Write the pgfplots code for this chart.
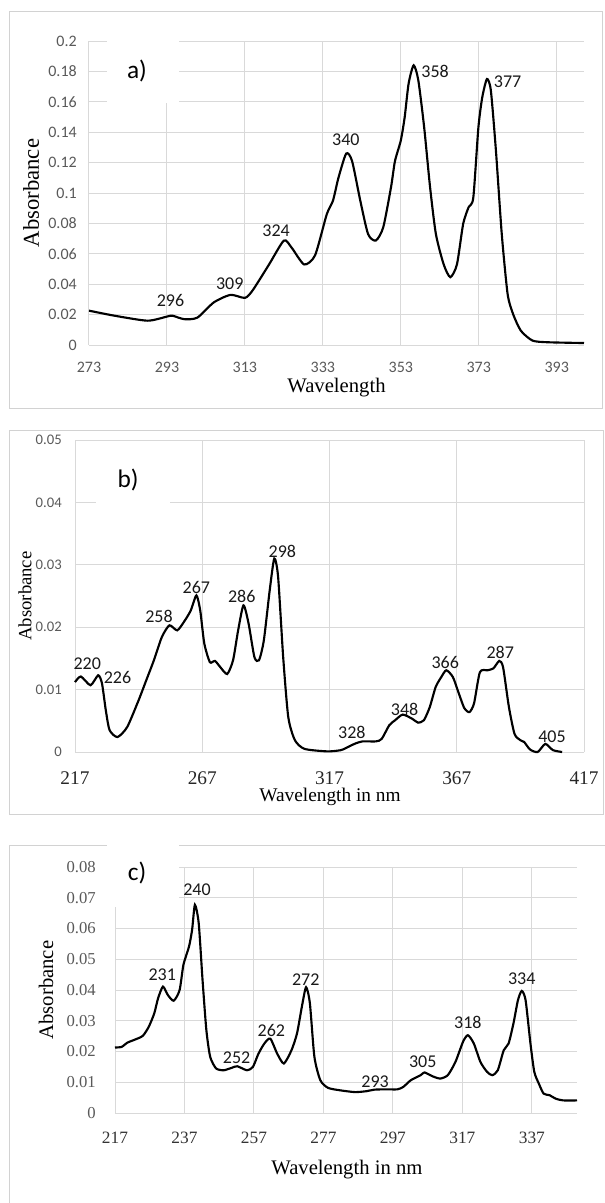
\documentclass[border=0pt]{standalone}
\usepackage{fontspec}
\setmainfont{Liberation Serif}
\newfontfamily\calfont{Carlito}
\usepackage{pgfplots}
\pgfplotsset{compat=1.18}
\definecolor{gridc}{RGB}{217,217,217}
\definecolor{framec}{RGB}{210,210,210}
\definecolor{tickgray}{RGB}{89,89,89}
\pgfplotsset{
  base/.style={
    scale only axis,
    anchor=south west,
    axis line style={draw=none},
    major tick length=0pt,
    grid=major,
    major grid style={gridc, line width=0.75pt},
    scaled y ticks=false,
    scaled x ticks=false,
    /pgf/number format/assume math mode=true,
    yticklabel style={/pgf/number format/fixed, /pgf/number format/precision=2, anchor=east, inner sep=0pt},
    xticklabel style={anchor=center, inner sep=0pt},
    xlabel style={anchor=center},
    ylabel style={anchor=center},
    clip=false,
  },
  spec/.style={black, line width=1.6pt, smooth, tension=0.4, mark=none},
}
\tikzset{pk/.style={font=\calfont\fontsize{13.5}{15}\selectfont, text=black!90, inner sep=0pt}}
\begin{document}
\begin{tikzpicture}
\useasboundingbox (0,0) rectangle (453.75pt,-902.25pt);
% frames
\draw[framec, line width=0.75pt] (6.75pt,-8.25pt) rectangle (451.5pt,-306pt);
\draw[framec, line width=0.75pt] (6.75pt,-322.5pt) rectangle (452.25pt,-610.5pt);
\draw[framec, line width=0.75pt] (453.75pt,-633.75pt) -- (6.75pt,-633.75pt) -- (6.75pt,-902.25pt);

% ---------------- panel a ----------------
\begin{axis}[base, at={(66.75pt,-258.75pt)},
  width=371.25pt, height=228pt,
  xmin=273, xmax=400, ymin=0, ymax=0.2,
  xtick={273,293,313,333,353,373,393},
  ytick={0,0.02,0.04,0.06,0.08,0.1,0.12,0.14,0.16,0.18,0.2},
  xticklabel style={font=\calfont\fontsize{12}{14}\selectfont, text=tickgray, yshift=-16.5pt},
  yticklabel style={font=\calfont\fontsize{12}{14}\selectfont, text=tickgray, xshift=-9pt},
  xlabel={Wavelength}, ylabel={Absorbance},
  xlabel style={at={(axis description cs:0.5,-0.1414)}, font=\fontsize{15.5}{17}\selectfont},
  ylabel style={at={(axis description cs:-0.117,0.5)}, font=\fontsize{17}{19}\selectfont},
]
\addplot[spec] coordinates {
(273,0.0226) (279.5,0.0193) (288,0.016) (293,0.0187) (294.4,0.0193) (297.4,0.017)
(300.8,0.018) (305,0.028) (309.3,0.033) (313,0.031) (315,0.036) (319.2,0.053)
(323,0.0687) (325,0.064) (328.2,0.053) (331,0.059) (334,0.086) (335.6,0.095)
(337,0.11) (339,0.126) (340.5,0.121) (342.6,0.095) (344.6,0.073) (346.6,0.0687)
(348.5,0.0775) (350.5,0.104) (351.5,0.121) (353,0.1346) (354,0.15) (355,0.172)
(356.3,0.184) (357.5,0.174) (359,0.143) (360.5,0.104) (362,0.073) (364,0.053)
(365.7,0.0446) (367.4,0.053) (369,0.0797) (370.4,0.0907) (371.6,0.097) (372.9,0.143)
(373.9,0.163) (375.1,0.175) (376.1,0.1675) (377.4,0.128) (378.9,0.073) (380.4,0.0336)
(381.8,0.0204) (383.8,0.0094) (386.8,0.0029) (390.8,0.0018) (400,0.0013)
};
\node[pk] at (axis cs:293.9,0.0292) {296};
\node[pk] at (axis cs:309.1,0.0406) {309};
\node[pk] at (axis cs:321,0.0753) {324};
\node[pk] at (axis cs:338.9,0.135) {340};
\node[pk] at (axis cs:361.8,0.180) {358};
\node[pk] at (axis cs:380.4,0.173) {377};
\end{axis}
\fill[white] (80.25pt,-29.5pt) rectangle (134.25pt,-77.25pt);
\node[font=\calfont\fontsize{19}{21}\selectfont] at (102.75pt,-53.25pt) {a)};

% ---------------- panel b ----------------
\begin{axis}[base, at={(56.25pt,-564pt)},
  width=381.75pt, height=234pt,
  xmin=217, xmax=417, ymin=0, ymax=0.05,
  xtick={217,267,317,367,417},
  ytick={0,0.01,0.02,0.03,0.04,0.05},
  xticklabel style={font=\fontsize{14.5}{16}\selectfont, text=black!85, yshift=-19.5pt},
  yticklabel style={font=\calfont\fontsize{11}{13}\selectfont, text=tickgray, xshift=-9.75pt},
  xlabel={Wavelength in nm}, ylabel={Absorbance},
  xlabel style={at={(axis description cs:0.501,-0.144)}, font=\fontsize{14.5}{16}\selectfont},
  ylabel style={at={(axis description cs:-0.0983,0.5)}, font=\fontsize{14}{16}\selectfont},
]
\addplot[spec] coordinates {
(217,0.0112) (219.3,0.0121) (223.1,0.0107) (226.1,0.0123) (227.6,0.011) (229.1,0.0067)
(230.6,0.0035) (233.7,0.0024) (237.5,0.004) (242,0.0083) (245,0.0115) (248,0.0147)
(251.1,0.0184) (254.1,0.0203) (257.2,0.0195) (260.2,0.0211) (262.5,0.0227) (264.7,0.0251)
(266.2,0.0227) (267.8,0.0174) (270,0.0144) (272,0.0146) (274.1,0.0136) (276.8,0.0125)
(279.1,0.0147) (281.1,0.0195) (283.2,0.0235) (285.2,0.0206) (287.5,0.0152) (289.3,0.0147)
(291.2,0.0179) (293.5,0.0259) (295.3,0.031) (296.8,0.0281) (298.8,0.0152) (300.8,0.0056)
(303.4,0.0019) (307.2,0.0005) (316.2,0.0001) (321.5,0.0003) (323.8,0.0007) (326.8,0.0013)
(329.9,0.0017) (335.2,0.0017) (337.5,0.0021) (340.5,0.0043) (342.8,0.0051) (345.8,0.006)
(349.6,0.0053) (351.8,0.0047) (354.1,0.0051) (356.4,0.0072) (358.7,0.0104) (360.9,0.012)
(362.9,0.0131) (365.5,0.012) (367.8,0.0094) (370,0.007) (372,0.0064) (373.8,0.0078)
(376.1,0.0128) (379.1,0.0131) (381.4,0.0134) (383.7,0.0146) (385.2,0.0136) (387.5,0.0072)
(389.7,0.0029) (392,0.0019) (393.5,0.0016) (395.8,0.0004) (398.8,0) (401.8,0.0013)
(404.8,0.0003) (408.4,0)
};
\node[pk] at (axis cs:221.8,0.0141) {220};
\node[pk] at (axis cs:233.7,0.0119) {226};
\node[pk] at (axis cs:250,0.0217) {258};
\node[pk] at (axis cs:264.7,0.0264) {267};
\node[pk] at (axis cs:282.5,0.025) {286};
\node[pk] at (axis cs:298.5,0.0322) {298};
\node[pk] at (axis cs:325.8,0.0031) {328};
\node[pk] at (axis cs:346.5,0.0068) {348};
\node[pk] at (axis cs:362.5,0.0143) {366};
\node[pk] at (axis cs:384.1,0.0159) {287};
\node[pk] at (axis cs:404.4,0.0024) {405};
\end{axis}
\fill[white] (72pt,-341.25pt) rectangle (127.5pt,-386.25pt);
\node[font=\calfont\fontsize{19}{21}\selectfont] at (96pt,-360pt) {b)};

% ---------------- panel c ----------------
\begin{axis}[base, at={(86.25pt,-834.75pt)},
  width=346.5pt, height=184.5pt,
  xmin=217, xmax=350, ymin=0, ymax=0.08,
  xtick={217,237,257,277,297,317,337},
  ytick={0,0.01,0.02,0.03,0.04,0.05,0.06,0.07,0.08},
  xticklabel style={font=\fontsize{13}{15}\selectfont, text=black!80, yshift=-18.75pt},
  yticklabel style={font=\fontsize{12.5}{14}\selectfont, text=tickgray, xshift=-14.25pt},
  xlabel={Wavelength in nm}, ylabel={Absorbance},
  xlabel style={at={(axis description cs:0.502,-0.2317)}, font=\fontsize{15.5}{17}\selectfont},
  ylabel style={at={(axis description cs:-0.149,0.5)}, font=\fontsize{15.5}{17}\selectfont},
]
\addplot[spec] coordinates {
(217,0.0213) (218.9,0.0215) (220.6,0.0229) (222.8,0.0239) (225,0.0251) (226.7,0.028)
(228.3,0.0324) (229.4,0.0373) (230.8,0.0411) (232.2,0.0384) (233.9,0.0365) (235.6,0.04)
(236.7,0.0482) (238.3,0.0541) (239.2,0.0596) (240,0.0677) (241.1,0.0617) (242.2,0.0433)
(243.3,0.027) (244.4,0.0183) (246.1,0.0145) (248.3,0.0139) (250.6,0.0147) (252.2,0.0152)
(255,0.0139) (256.7,0.015) (258.3,0.0193) (260,0.0226) (261.7,0.0242) (263.7,0.0193)
(265.6,0.0161) (267.8,0.0204) (269.4,0.0259) (270.8,0.0346) (272,0.0409) (273.1,0.0357)
(274.4,0.0183) (276.1,0.0107) (278.3,0.0082) (281.7,0.0074) (286.1,0.0068) (289.4,0.0071)
(291.7,0.0076) (295,0.0077) (298.3,0.0077) (300,0.0085) (302.2,0.0107) (305,0.0123)
(306.1,0.0132) (308.3,0.012) (310.6,0.0112) (312.8,0.0123) (315,0.0166) (317.2,0.0232)
(318.6,0.0253) (320.3,0.0226) (322.2,0.0166) (324.1,0.0134) (325.6,0.0123) (327.2,0.0139)
(328.9,0.0204) (330.3,0.0226) (331.7,0.0291) (333,0.0367) (334.1,0.0397) (335.2,0.0367)
(336.6,0.0226) (337.7,0.0134) (339,0.0096) (340.4,0.0063) (342.1,0.0058) (343.8,0.0047)
(346,0.0041) (350,0.0041)
};
\node[pk] at (axis cs:230.6,0.0451) {231};
\node[pk] at (axis cs:240.6,0.0726) {240};
\node[pk] at (axis cs:252,0.018) {252};
\node[pk] at (axis cs:262,0.0267) {262};
\node[pk] at (axis cs:271.9,0.0433) {272};
\node[pk] at (axis cs:291.9,0.0103) {293};
\node[pk] at (axis cs:305.6,0.0166) {305};
\node[pk] at (axis cs:318.6,0.0295) {318};
\node[pk] at (axis cs:334.1,0.0438) {334};
\end{axis}
\fill[white] (80.25pt,-631.5pt) rectangle (134.25pt,-680.25pt);
\node[font=\calfont\fontsize{19}{21}\selectfont] at (102.75pt,-654.75pt) {c)};
\end{tikzpicture}
\end{document}
